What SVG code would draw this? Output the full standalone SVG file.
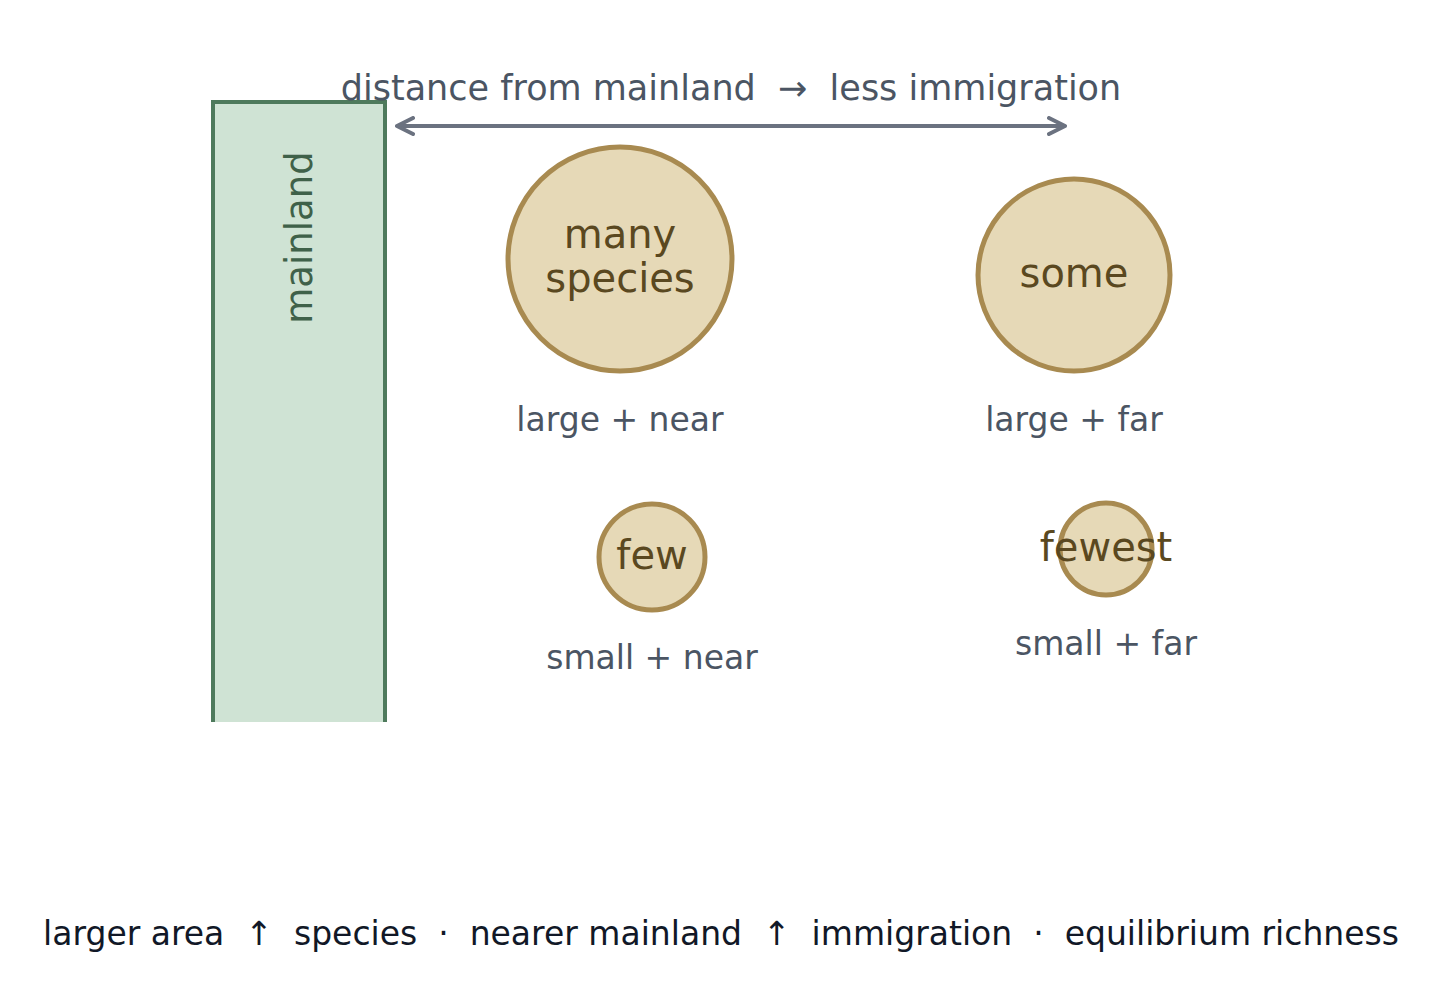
<svg xmlns="http://www.w3.org/2000/svg" width="1445" height="998" viewBox="0 0 1445 998">
<defs>
<style>
text{font-family:"DejaVu Sans","Liberation Sans",sans-serif;white-space:pre}
.title{font-size:35px;fill:#4b5563;text-anchor:middle}
.lbl{font-size:33px;fill:#4b5563;text-anchor:middle}
.isl{fill:#e6d9b7;stroke:#a88a50;stroke-width:5}
.it{font-size:40px;fill:#5a4820;text-anchor:middle}
.foot{font-size:33px;fill:#111827;text-anchor:middle}
.ml{font-size:37px;fill:#3f6149;text-anchor:middle}
</style>
<marker id="ah" viewBox="0 0 20 20" refX="18" refY="10" markerWidth="20" markerHeight="20" markerUnits="userSpaceOnUse" orient="auto-start-reverse">
<path d="M2 2 L18 10 L2 18" fill="none" stroke="#6b7280" stroke-width="4" stroke-linecap="round" stroke-linejoin="round"/>
</marker>
</defs>
<rect width="1445" height="998" fill="#ffffff"/>
<g id="mainland">
<rect x="213" y="102" width="172" height="620" fill="#cfe3d4"/>
<path d="M213 722 V102 H385 V722" fill="none" stroke="#4e7a5c" stroke-width="4"/>
<text class="ml" transform="translate(312 237.5) rotate(-90)">mainland</text>
</g>
<g id="connectors">
<line x1="397" y1="126" x2="1065" y2="126" stroke="#6b7280" stroke-width="4" marker-start="url(#ah)" marker-end="url(#ah)"/>
</g>
<text class="title" x="731" y="100">distance from mainland  →  less immigration</text>
<g id="large-near">
<circle class="isl" cx="620" cy="259" r="112"/>
<text class="it" x="620" y="248">many</text>
<text class="it" x="620" y="292">species</text>
<text class="lbl" x="620" y="431">large + near</text>
</g>
<g id="large-far">
<circle class="isl" cx="1074" cy="275" r="96"/>
<text class="it" x="1074" y="287">some</text>
<text class="lbl" x="1074" y="431">large + far</text>
</g>
<g id="small-near">
<circle class="isl" cx="652" cy="557" r="53"/>
<text class="it" x="652" y="569">few</text>
<text class="lbl" x="652" y="669">small + near</text>
</g>
<g id="small-far">
<circle class="isl" cx="1106" cy="549" r="46"/>
<text class="it" x="1106" y="561">fewest</text>
<text class="lbl" x="1106" y="655">small + far</text>
</g>
<text class="foot" x="721" y="945">larger area  ↑  species  ·  nearer mainland  ↑  immigration  ·  equilibrium richness</text>
</svg>
